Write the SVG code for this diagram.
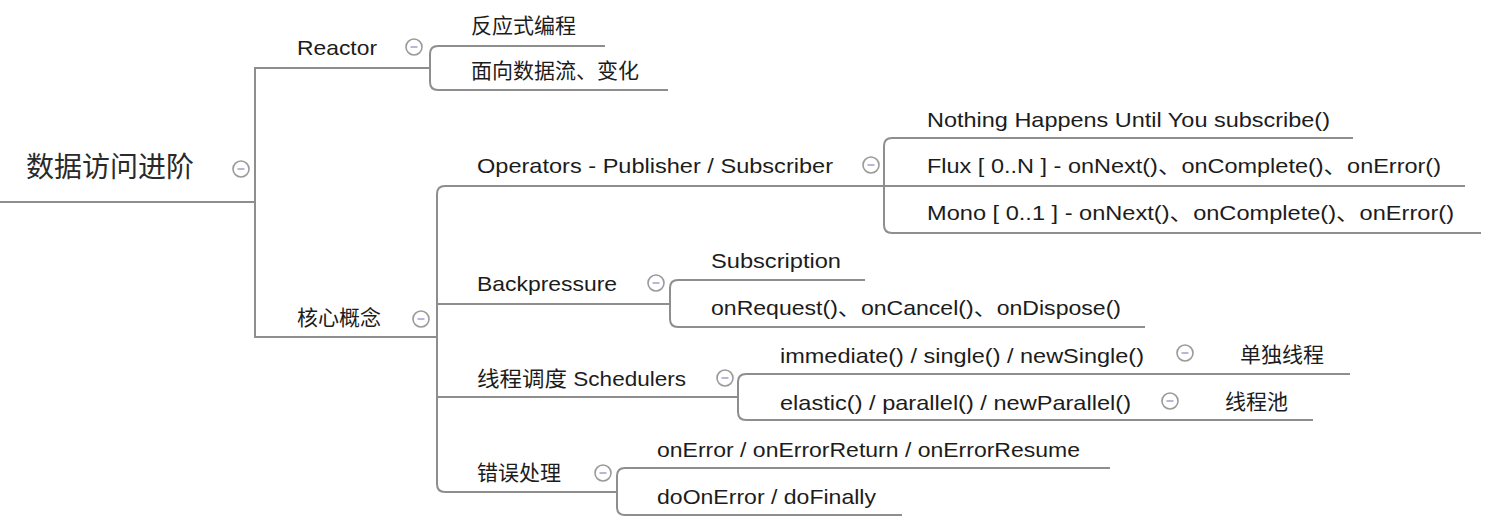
<svg xmlns="http://www.w3.org/2000/svg" width="1500" height="521" viewBox="0 0 1500 521">
<defs>
<style>
.t{font-family:"Liberation Sans","Noto Sans CJK SC",sans-serif;font-size:21px;fill:#1c1c1c}
.c{font-family:"Noto Sans CJK SC",sans-serif;font-size:21px;fill:#1c1c1c}
.root{font-family:"Noto Sans CJK SC",sans-serif;font-size:28px;fill:#2a2a2a}
.ln{fill:none;stroke:#8e8e8e;stroke-width:2}
.cb{fill:#fff;stroke:#9a9a9a;stroke-width:1.6}
.mi{stroke:#a6a6cc;stroke-width:1.6}
</style>
<g id="collapse"><circle class="cb" r="8"/><line class="mi" x1="-3.5" y1="0" x2="3.5" y2="0"/></g>
</defs>
<rect width="1500" height="521" fill="#fff"/>
<g id="connectors">
<path class="ln" d="M0 202 H255"/>
<path class="ln" d="M430 68 H255 V337 H437"/>
<path class="ln" d="M605 46 H438 Q430 46 430 54 V82 Q430 90 438 90 H668"/>
<path class="ln" d="M884 186 H445 Q437 186 437 194 V484 Q437 492 445 492 H617"/>
<path class="ln" d="M437 304 H670"/>
<path class="ln" d="M437 397 H738"/>
<path class="ln" d="M1353 138 H892 Q884 138 884 146 V225 Q884 233 892 233 H1481"/>
<path class="ln" d="M884 186 H1465"/>
<path class="ln" d="M865 280 H678 Q670 280 670 288 V319 Q670 327 678 327 H1145"/>
<path class="ln" d="M1350 374 H746 Q738 374 738 382 V412 Q738 420 746 420 H1313"/>
<path class="ln" d="M1110 468 H625 Q617 468 617 476 V507 Q617 515 625 515 H902"/>
</g>
<g id="root"><text class="root" x="26" y="177">数据访问进阶</text><use href="#collapse" x="241" y="169"/></g>
<g id="reactor"><text class="t" x="297" y="55" textLength="80" lengthAdjust="spacingAndGlyphs">Reactor</text><use href="#collapse" x="414" y="47"/></g>
<g id="reactive"><text class="c" x="471" y="33">反应式编程</text></g>
<g id="dataflow"><text class="c" x="471" y="78">面向数据流、变化</text></g>
<g id="core"><text class="c" x="297" y="325">核心概念</text><use href="#collapse" x="421" y="319"/></g>
<g id="operators"><text class="t" x="477" y="173" textLength="356" lengthAdjust="spacingAndGlyphs">Operators - Publisher / Subscriber</text><use href="#collapse" x="871" y="165"/></g>
<g id="nothing"><text class="t" x="927" y="127" textLength="403" lengthAdjust="spacingAndGlyphs">Nothing Happens Until You subscribe()</text></g>
<g id="flux"><text class="t" x="927" y="173" textLength="514" lengthAdjust="spacingAndGlyphs">Flux [ 0..N ] - onNext()、onComplete()、onError()</text></g>
<g id="mono"><text class="t" x="927" y="220" textLength="527" lengthAdjust="spacingAndGlyphs">Mono [ 0..1 ] - onNext()、onComplete()、onError()</text></g>
<g id="backpressure"><text class="t" x="477" y="291" textLength="140" lengthAdjust="spacingAndGlyphs">Backpressure</text><use href="#collapse" x="656" y="283"/></g>
<g id="subscription"><text class="t" x="711" y="268" textLength="130" lengthAdjust="spacingAndGlyphs">Subscription</text></g>
<g id="onrequest"><text class="t" x="711" y="315" textLength="410" lengthAdjust="spacingAndGlyphs">onRequest()、onCancel()、onDispose()</text></g>
<g id="schedulers"><text class="t" x="477" y="386" textLength="209" lengthAdjust="spacingAndGlyphs">线程调度 Schedulers</text><use href="#collapse" x="725" y="378"/></g>
<g id="immediate"><text class="t" x="780" y="363" textLength="364" lengthAdjust="spacingAndGlyphs">immediate() / single() / newSingle()</text><use href="#collapse" x="1185" y="353"/></g>
<g id="single-thread"><text class="c" x="1240" y="362">单独线程</text></g>
<g id="elastic"><text class="t" x="780" y="410" textLength="351" lengthAdjust="spacingAndGlyphs">elastic() / parallel() / newParallel()</text><use href="#collapse" x="1170" y="401"/></g>
<g id="thread-pool"><text class="c" x="1225" y="409">线程池</text></g>
<g id="error"><text class="c" x="477" y="480">错误处理</text><use href="#collapse" x="603" y="473"/></g>
<g id="onerror"><text class="t" x="657" y="457" textLength="423" lengthAdjust="spacingAndGlyphs">onError / onErrorReturn / onErrorResume</text></g>
<g id="doonerror"><text class="t" x="657" y="504" textLength="219" lengthAdjust="spacingAndGlyphs">doOnError / doFinally</text></g>
</svg>
